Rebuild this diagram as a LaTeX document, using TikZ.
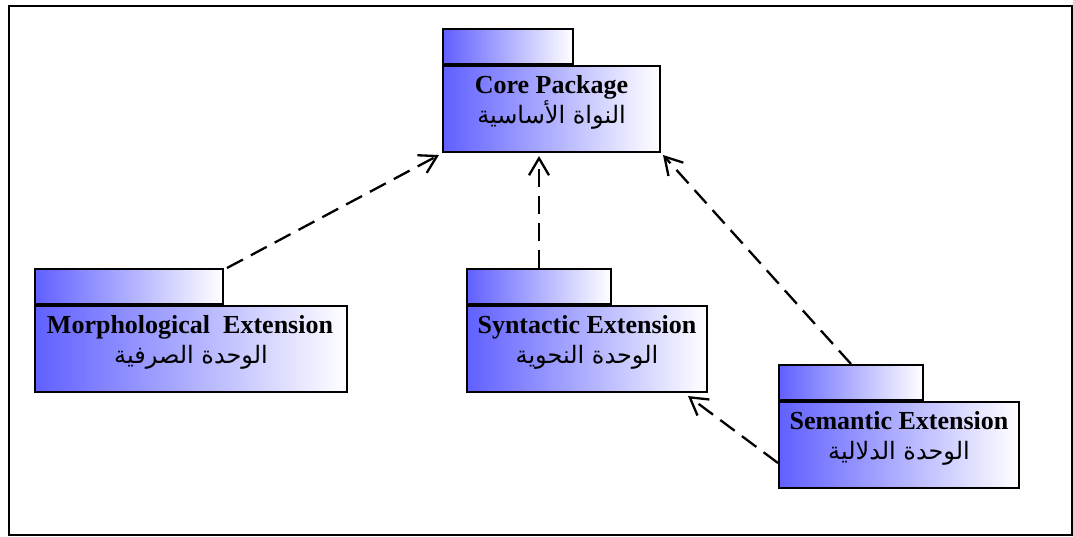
\documentclass[tikz,border=0pt]{standalone}
\usepackage{fontspec}
\setmainfont{Liberation Serif}
\newfontfamily\arabicfont[Script=Arabic]{DejaVu Sans}
\TeXXeTstate=1
\usetikzlibrary{arrows.meta,calc}

\definecolor{pkgblue}{RGB}{96,96,255}
\definecolor{pkgmid}{RGB}{195,195,255}

\tikzset{
  pkgshade/.style={draw=black, line width=2pt,
    left color=pkgblue, middle color=pkgmid, right color=white},
  pkgtab/.style={pkgshade, anchor=south west, inner sep=0pt,
    minimum height=35pt},
  pkgbody/.style={pkgshade, anchor=north west, inner sep=0pt,
    minimum height=86pt},
  entitle/.style={anchor=base, inner sep=0pt,
    font=\fontsize{26}{30}\selectfont\bfseries},
  artitle/.style={anchor=base, inner sep=0pt,
    font=\arabicfont\fontsize{24}{30}\selectfont},
  depends/.style={line width=2.3pt, dash pattern=on 18pt off 9pt,
    -{Straight Barb[length=17pt,width=20pt,line width=2.3pt]}}
}

\begin{document}
\begin{tikzpicture}[x=1pt,y=-1pt]
  \useasboundingbox (0,0) rectangle (1073,536);
  \node[draw=black, line width=1.6pt, anchor=north west, inner sep=0pt,
        minimum width=1063pt, minimum height=529pt] (frame) at (8,5) {};

  % Core package
  \node[pkgbody, minimum width=217pt] (coreBody) at (442,65) {};
  \node[pkgtab, minimum width=130pt] (coreTab) at (coreBody.north west) {};
  \node[entitle] (coreEn) at ([yshift=-28pt]coreBody.north) {Core Package};
  \node[artitle] (coreAr) at ([yshift=-58pt]coreBody.north)
    {\beginR النواة الأساسية\endR};

  % Morphological extension
  \node[pkgbody, minimum width=312pt] (morBody) at (34,305) {};
  \node[pkgtab, minimum width=188pt] (morTab) at (morBody.north west) {};
  \node[entitle] (morEn) at ([xshift=-1pt,yshift=-28pt]morBody.north)
    {Morphological~~Extension};
  \node[artitle] (morAr) at ([yshift=-58pt]morBody.north)
    {\beginR الوحدة الصرفية\endR};

  % Syntactic extension
  \node[pkgbody, minimum width=240pt] (synBody) at (466,305) {};
  \node[pkgtab, minimum width=144pt] (synTab) at (synBody.north west) {};
  \node[entitle] (synEn) at ([yshift=-28pt]synBody.north) {Syntactic Extension};
  \node[artitle] (synAr) at ([yshift=-58pt]synBody.north)
    {\beginR الوحدة النحوية\endR};

  % Semantic extension
  \node[pkgbody, minimum width=240pt] (semBody) at (778,401) {};
  \node[pkgtab, minimum width=144pt] (semTab) at (semBody.north west) {};
  \node[entitle] (semEn) at ([yshift=-28pt]semBody.north) {Semantic Extension};
  \node[artitle] (semAr) at ([yshift=-58pt]semBody.north)
    {\beginR الوحدة الدلالية\endR};

  % Dependencies
  \draw[depends] ([xshift=3pt]morTab.north east)
    -- ([xshift=-3pt,yshift=-2pt]coreBody.south west);
  \draw[depends] (synTab.north) -- ([yshift=-3pt]synTab.north |- coreBody.south);
  \draw[depends] (semTab.north)
    -- ([xshift=2pt,yshift=-2pt]coreBody.south east);
  \draw[depends] ([yshift=-18pt]semBody.west)
    -- ([xshift=-20pt,yshift=-3pt]synBody.south east);
\end{tikzpicture}
\end{document}
